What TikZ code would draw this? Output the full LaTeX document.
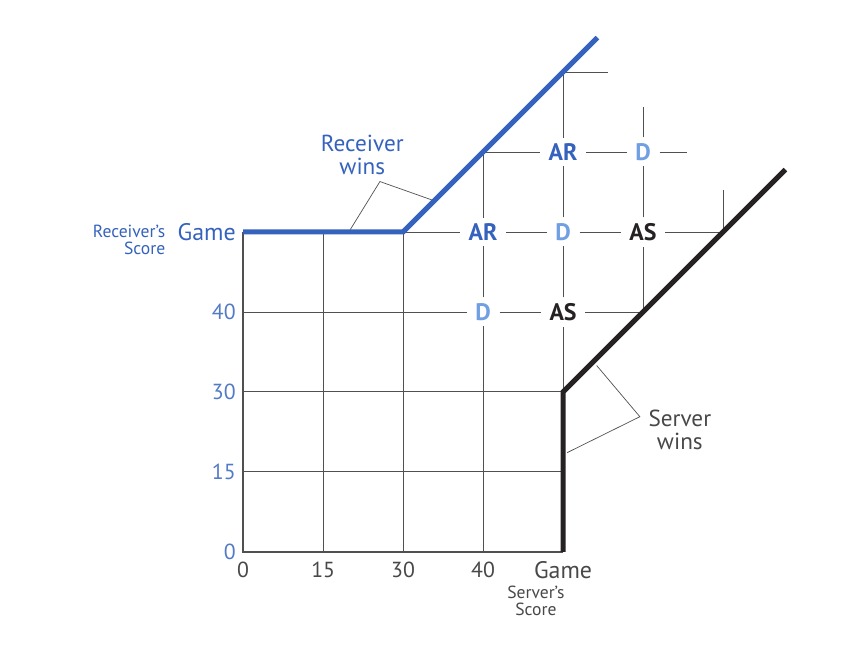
\documentclass[tikz,border=0pt]{standalone}
\usepackage{fontspec}
\setmainfont{PT Sans}
\definecolor{recblue}{RGB}{52,98,188}
\definecolor{deuceblue}{RGB}{112,160,226}
\definecolor{servblack}{RGB}{38,34,36}
\definecolor{gridgray}{RGB}{80,80,80}
\tikzset{
  gridline/.style={draw=gridgray, line width=0.6pt},
  pointer/.style={draw=gridgray, line width=0.5pt},
  winline/.style={line width=3.6pt, line join=miter},
  state/.style={inner xsep=6pt, inner ysep=4pt, font=\fontsize{17}{18}\selectfont\bfseries},
  ticklabel/.style={inner sep=0pt, font=\fontsize{15.5}{17}\selectfont},
}
\begin{document}
\begin{tikzpicture}[x=2cm,y=2cm]
\useasboundingbox (-3.04,-1.3) rectangle (7.8,6.9);

% grid points
\foreach \i in {0,...,4}
  \foreach \j in {0,...,4}
    \coordinate (p\i\j) at (\i,\j);
\coordinate (p35) at (3,5);
\coordinate (p46) at (4,6);
\coordinate (p53) at (5,3);
\coordinate (p64) at (6,4);
\coordinate (q46) at (4.56,6);
\coordinate (q55) at (5.55,5);
\coordinate (q56) at (5,5.56);
\coordinate (q65) at (6,4.53);
\coordinate (recend) at (4.43,6.43);
\coordinate (servend) at (6.78,4.78);

% states beyond 40
\node[state,text=recblue]   (ar1) at (4,5) {AR};
\node[state,text=deuceblue] (d1)  at (5,5) {D};
\node[state,text=recblue]   (ar2) at (3,4) {AR};
\node[state,text=deuceblue] (d2)  at (4,4) {D};
\node[state,text=servblack] (as1) at (5,4) {AS};
\node[state,text=deuceblue] (d3)  at (3,3) {D};
\node[state,text=servblack] (as2) at (4,3) {AS};

% score grid
\foreach \j in {1,2}
  \draw[gridline] (p0\j) -- (p4\j);
\foreach \i in {1,2}
  \draw[gridline] (p\i0) -- (p\i4);
\draw[gridline, line width=1pt] (p04) -- (p00) -- (p40);
\draw[gridline] (p03) -- (d3) (d3) -- (as2) (as2) -- (p53);
\draw[gridline] (p24) -- (ar2) (ar2) -- (d2) (d2) -- (as1) (as1) -- (p64);
\draw[gridline] (p35) -- (ar1) (ar1) -- (d1) (d1) -- (q55);
\draw[gridline] (p46) -- (q46);
\draw[gridline] (p30) -- (d3) (d3) -- (ar2) (ar2) -- (p35);
\draw[gridline] (p40) -- (as2) (as2) -- (d2) (d2) -- (ar1) (ar1) -- (p46);
\draw[gridline] (p53) -- (as1) (as1) -- (d1) (d1) -- (q56);
\draw[gridline] (p64) -- (q65);

% winning edges
\draw[winline, recblue] (p04) -- (p24) -- (recend);
\draw[winline, servblack] (p40) -- (p42) -- (servend);

% axis labels
\foreach \s [count=\j from 0] in {0,15,30,40}
  \node[ticklabel, anchor=east, text=recblue!85!white] (ry\j) at (-0.09,\j) {\s};
\node[ticklabel, anchor=east, text=recblue, font=\fontsize{17}{18}\selectfont] (rgame) at (-0.09,4) {Game};
\node[anchor=east, align=right, inner sep=0pt, text=recblue,
  font=\fontsize{12.5}{12}\selectfont] (rscore) at (-0.97,3.9) {Receiver’s\\Score};
\foreach \s [count=\i from 0] in {0,15,30,40}
  \node[ticklabel, text=gridgray!90!black] (sx\i) at (\i,-0.23) {\s};
\node[ticklabel, text=gridgray!90!black, font=\fontsize{17}{18}\selectfont] (sgame) at (4,-0.23) {Game};
\node[align=center, inner sep=0pt, text=gridgray!90!black,
  font=\fontsize{12.5}{12.5}\selectfont] (sscore) at (3.66,-0.61) {Server’s\\Score};

% who wins
\node[align=center, text=recblue, font=\fontsize{16.5}{16.5}\selectfont] (recwins) at (1.49,4.96) {Receiver\\wins};
\coordinate (rwtip) at (1.71,4.63);
\coordinate (rw1) at (1.34,4.03);
\coordinate (rw2) at (2.36,4.40);
\draw[pointer] (rw1) -- (rwtip) -- (rw2);

\node[align=center, text=gridgray!90!black, font=\fontsize{16.5}{16.5}\selectfont] (servwins) at (5.46,1.53) {Server\\wins};
\coordinate (swtip) at (4.96,1.69);
\coordinate (sw1) at (4.42,2.33);
\coordinate (sw2) at (4.05,1.24);
\draw[pointer] (sw1) -- (swtip) -- (sw2);
\end{tikzpicture}
\end{document}
